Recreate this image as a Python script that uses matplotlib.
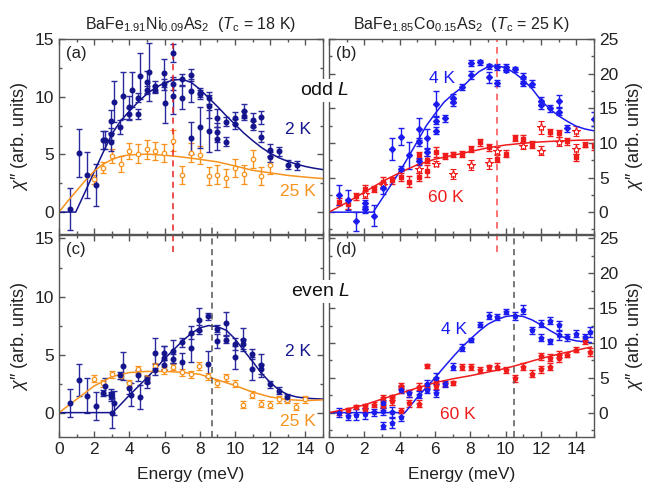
import matplotlib
matplotlib.use("Agg")
import matplotlib.pyplot as plt
from matplotlib.ticker import MultipleLocator

plt.rcParams['font.family'] = ['Liberation Sans', 'DejaVu Sans']
plt.rcParams['mathtext.fontset'] = 'custom'
plt.rcParams['mathtext.rm'] = 'Liberation Sans'
plt.rcParams['mathtext.it'] = 'Liberation Sans:italic'
plt.rcParams['mathtext.bf'] = 'Liberation Sans:bold'

# (a) BaFe1.91Ni0.09As2, odd L
a2_x = [0.63, 1.14, 1.61, 2.13, 2.5, 2.64, 2.98, 2.98, 2.98, 3.13, 3.47, 3.62, 4.0, 4.0, 4.14, 4.48, 4.48, 4.61, 5.0, 5.0,
        5.12, 5.48, 5.48, 5.98, 5.98, 6.05, 6.47, 6.47, 6.47, 6.98, 6.98, 7.5, 7.5, 7.5, 8.0, 8.0, 8.0, 8.5, 8.5, 8.5,
        9.0, 9.0, 9.0, 9.5, 9.5, 10.0, 10.0, 10.5, 10.5, 11.0, 11.0, 11.5, 11.5, 12.0, 12.0, 12.5, 13.0, 13.5]
a2_y = [0.26, 5.14, 3.2, 2.34, 6.26, 6.26, 6.06, 6.77, 7.86, 9.57, 7.34, 10.1, 9.1, 8.5, 10.6, 9.9, 8.5, 11.8, 11.26, 10.6,
        12.14, 10.9, 10.6, 12.06, 11.06, 9.49, 13.77, 11.06, 10.1, 11.5, 9.9, 11.9, 10.53, 6.43, 10.34, 10.2, 7.34, 9.9, 9.19, 7.05,
        8.14, 6.91, 6.34, 7.85, 6.11, 8.14, 7.63, 8.77, 8.34, 7.97, 7.49, 8.2, 6.54, 5.4, 4.77, 5.27, 4.11, 4.06]
a2_e = [1.85, 2.1, 2.0, 1.8, 0.8, 0.8, 0.8, 0.5, 1.0, 1.8, 0.6, 2.0, 1.0, 0.5, 1.5, 0.4, 0.4, 2.0, 1.0, 0.3,
        2.5, 0.5, 0.3, 1.2, 0.5, 1.8, 0.8, 0.5, 1.6, 0.5, 1.0, 0.5, 1.0, 1.4, 0.4, 0.4, 1.8, 0.5, 1.0, 1.8,
        0.8, 0.8, 1.0, 0.4, 0.4, 0.5, 0.4, 0.6, 0.4, 0.6, 0.4, 0.6, 0.5, 0.5, 0.4, 0.4, 0.4, 0.4]
a25_x = [2.0, 2.49, 3.02, 3.5, 4.0, 4.48, 5.0, 5.48, 5.98, 6.47, 6.98, 7.5, 8.0, 8.5, 9.0, 9.5, 10.0, 10.5, 11.0, 11.5, 12.0]
a25_y = [2.85, 3.86, 4.86, 4.14, 5.26, 5.06, 5.43, 5.29, 5.11, 6.2, 3.2, 5.16, 4.93, 3.12, 3.24, 2.97, 3.83, 3.26, 4.6, 3.12, 4.08]
a25_e = [0.4, 0.5, 0.6, 0.7, 0.7, 0.8, 0.8, 0.8, 0.8, 0.9, 0.8, 0.8, 0.8, 0.8, 0.8, 0.8, 0.8, 0.8, 0.8, 0.8, 0.8]
a2_fit_x = [0, 0.95, 1.5, 2.0, 2.5, 3.0, 3.5, 4.0, 4.5, 5.0, 5.5, 6.0, 6.5, 7.0, 7.5, 8.0, 8.5, 9.0, 9.5, 10.0,
            10.5, 11.0, 11.5, 12.0, 12.5, 13.0, 13.5, 14.0, 14.5, 15.0]
a2_fit_y = [0, 0, 1.8, 3.5, 5.15, 6.75, 7.9, 8.75, 9.55, 10.25, 10.8, 11.2, 11.45, 11.5, 11.25, 10.65, 9.9, 9.15, 8.35, 7.6,
            6.85, 6.2, 5.6, 5.1, 4.7, 4.4, 4.15, 3.95, 3.8, 3.68]
a25_fit_x = [0, 0.5, 1.0, 1.5, 2.0, 2.5, 3.0, 3.5, 4.0, 5.0, 6.0, 7.0, 8.0, 9.0, 10.0, 11.0, 12.0, 13.0, 14.0, 15.0]
a25_fit_y = [0, 0.95, 1.85, 2.75, 3.55, 4.15, 4.55, 4.82, 4.96, 5.02, 4.93, 4.77, 4.57, 4.35, 4.0, 3.62, 3.4, 3.18, 3.03, 2.9]

# (b) BaFe1.85Co0.15As2, odd L
b4_x = [0.55, 1.08, 1.55, 2.06, 2.06, 2.55, 3.06, 3.55, 4.06, 4.06, 4.53, 5.08, 5.08, 5.08, 5.57, 5.57, 6.06, 6.06, 6.06, 6.55,
        7.02, 7.02, 7.53, 8.02, 8.02, 8.53, 9.04, 9.04, 9.53, 9.53, 10.02, 10.02, 10.51, 10.98, 10.98, 11.49, 11.98, 11.98,
        12.49, 13.0, 13.0, 13.49, 14.98]
b4_y = [2.48, 1.76, -1.33, 0.43, 1.29, -0.52, 3.43, 9.14, 10.9, 6.29, 8.19, 12.0, 10.1, 7.33, 10.67, 8.67, 15.67, 13.19, 11.76, 13.57,
        16.43, 15.9, 18.05, 21.52, 19.76, 21.62, 19.48, 21.05, 18.67, 20.95, 20.95, 20.57, 20.62, 19.52, 18.67, 18.57, 16.05, 15.43,
        15.0, 16.05, 14.48, 12.14, 13.43]
b4_e = [1.5, 1.5, 1.4, 0.5, 0.5, 1.5, 0.8, 1.6, 1.2, 0.4, 2.0, 1.6, 0.6, 0.5, 1.4, 0.5, 1.8, 0.5, 0.5, 0.5,
        0.7, 0.5, 0.4, 0.4, 0.6, 0.4, 0.8, 0.4, 0.4, 0.4, 0.4, 0.4, 0.4, 0.6, 0.5, 0.5, 0.6, 0.5,
        0.5, 0.8, 0.5, 0.5, 1.0]
b60_x = [0.55, 1.08, 1.55, 2.06, 2.55, 3.06, 3.55, 4.06, 4.53, 5.08, 5.08, 5.57, 5.57, 6.06, 6.55, 7.02, 7.53, 8.02, 8.53, 9.04,
         9.53, 10.02, 10.51, 10.98, 11.49, 12.49, 13.0, 13.49, 14.0, 14.47, 14.98]
b60_y = [1.52, 1.19, 2.33, 3.33, 3.33, 4.38, 4.62, 5.1, 4.38, 5.1, 8.19, 5.95, 7.57, 8.67, 8.1, 8.33, 8.43, 9.14, 10.1, 9.38,
         7.71, 8.43, 10.71, 10.57, 9.76, 11.52, 11.38, 10.24, 7.95, 9.76, 9.52]
b60_e = [0.5, 0.7, 0.5, 0.6, 0.4, 0.7, 0.5, 0.6, 0.8, 0.6, 0.5, 0.8, 0.5, 0.7, 0.4, 0.4, 0.4, 0.4, 0.5, 0.5,
         0.5, 0.5, 0.4, 0.5, 0.5, 0.5, 0.5, 0.5, 0.5, 0.4, 0.5]
b60s_x = [2.06, 3.06, 5.08, 6.06, 7.02, 8.02, 9.04, 9.53, 11.0, 11.98, 11.98, 13.0, 13.96, 13.96]
b60s_y = [2.57, 3.9, 6.29, 7.0, 5.48, 6.86, 7.09, 8.9, 9.61, 12.24, 8.9, 10.19, 11.76, 9.14]
b60s_e = [0.5, 0.5, 0.6, 0.4, 0.7, 0.7, 0.8, 0.5, 0.5, 0.9, 0.7, 0.6, 0.7, 0.7]
b4_fit_x = [0, 2.5, 3.0, 3.5, 4.0, 4.5, 5.0, 5.5, 6.0, 6.5, 7.0, 7.5, 8.0, 8.5, 9.0, 9.5, 10.0, 10.5, 11.0, 11.5,
            12.0, 12.5, 13.0, 13.5, 14.0, 14.5, 15.0]
b4_fit_y = [0, 0, 1.95, 3.9, 5.85, 8.0, 10.2, 12.45, 14.2, 15.85, 17.0, 17.95, 19.2, 20.3, 21.0, 21.15, 20.85, 20.1, 19.1, 17.8,
            16.15, 14.9, 13.9, 13.1, 12.4, 12.0, 11.75]
b60_fit_x = [0, 1, 2, 3, 4, 5, 6, 7, 8, 9, 10, 11, 12, 13, 14, 15]
b60_fit_y = [0, 1.38, 2.88, 4.4, 5.7, 6.85, 7.65, 8.2, 8.75, 9.3, 9.7, 9.95, 10.15, 10.28, 10.38, 10.43]

# (c) BaFe1.91Ni0.09As2, even L
c2_x = [0.61, 1.12, 1.61, 2.12, 2.48, 2.63, 2.97, 2.97, 3.0, 3.12, 3.47, 3.62, 4.0, 4.11, 4.47, 4.6, 4.98, 4.98, 5.47, 5.47,
        5.97, 5.97, 5.97, 6.46, 6.46, 6.97, 6.97, 7.48, 7.48, 7.97, 7.97, 8.48, 8.48, 8.98, 8.98, 9.49, 9.49, 9.98, 9.98,
        10.47, 10.47, 10.97, 10.97, 11.48, 11.48, 11.99, 12.48, 12.97]
c2_y = [0.86, 2.81, 1.46, 0.54, 1.69, 2.26, 1.4, 1.6, 0.0, 0.83, 3.21, 3.98, 2.12, 1.55, 3.21, 1.35, 2.6, 2.89, 5.13, 3.7,
        4.7, 4.13, 5.13, 5.27, 4.64, 6.07, 4.33, 6.9, 5.56, 8.0, 7.13, 8.28, 4.18, 7.22, 6.13, 7.71, 6.28, 5.9, 4.76,
        6.28, 5.9, 5.04, 3.78, 4.07, 3.75, 2.46, 1.89, 1.32]
c2_e = [1.2, 1.4, 1.5, 1.2, 0.3, 0.7, 0.4, 0.4, 1.3, 1.0, 0.3, 1.2, 0.5, 1.0, 0.5, 1.0, 0.5, 0.3, 1.3, 0.5,
        1.0, 0.4, 0.6, 1.0, 0.4, 0.4, 0.8, 0.6, 1.2, 1.0, 0.4, 0.3, 1.1, 0.3, 0.6, 1.0, 0.3, 0.5, 1.0,
        1.0, 0.4, 0.4, 1.0, 1.0, 0.4, 0.3, 0.3, 0.3]
c25_x = [2.01, 2.52, 3.01, 3.5, 4.0, 4.47, 4.98, 5.47, 5.97, 6.46, 6.97, 7.48, 7.97, 8.48, 8.98, 9.49, 9.98, 10.47, 10.97,
         11.48, 11.99, 12.48, 12.97, 13.47, 13.98]
c25_y = [2.92, 2.55, 3.32, 3.18, 2.55, 3.75, 2.98, 3.98, 3.64, 3.93, 3.47, 3.32, 3.98, 3.12, 2.55, 3.04, 2.49, 0.69, 1.55,
         0.77, 0.69, 1.17, 1.12, 0.49, 1.17]
c25_e = [0.3, 0.3, 0.3, 0.3, 0.3, 0.3, 0.3, 0.3, 0.3, 0.3, 0.3, 0.3, 0.35, 0.3, 0.3, 0.3, 0.3, 0.3, 0.3,
         0.3, 0.3, 0.3, 0.3, 0.3, 0.3]
c2_fit_x = [0, 3.05, 3.5, 4.0, 4.5, 5.0, 5.5, 6.0, 6.5, 7.0, 7.5, 8.0, 8.5, 9.0, 9.5, 10.0, 10.5, 11.0, 11.5, 12.0,
            12.5, 13.0, 13.5, 14.0, 14.5, 15.0]
c2_fit_y = [0, 0, 0.7, 1.5, 2.25, 3.0, 3.8, 4.65, 5.4, 6.15, 6.8, 7.3, 7.5, 7.4, 7.1, 6.35, 5.35, 4.4, 3.4, 2.6,
            1.95, 1.55, 1.35, 1.25, 1.2, 1.17]
c25_fit_x = [0, 1, 2, 3, 4, 5, 6, 7, 8, 9, 10, 11, 12, 13, 14, 15]
c25_fit_y = [0, 1.15, 2.3, 3.1, 3.45, 3.55, 3.55, 3.47, 3.3, 2.83, 2.33, 1.77, 1.35, 1.12, 1.03, 1.1]

# (d) BaFe1.85Co0.15As2, even L
d4_x = [0.55, 1.06, 1.55, 2.06, 2.55, 3.06, 3.06, 3.06, 3.55, 3.55, 4.06, 4.06, 4.53, 5.08, 5.57, 5.57, 6.06, 6.06, 6.55, 7.02,
        7.53, 8.02, 8.53, 9.04, 9.53, 10.02, 10.51, 10.98, 11.49, 11.98, 11.98, 12.49, 12.49, 13.0, 13.0, 13.49, 14.0, 14.51, 14.79]
d4_y = [0.0, -0.52, -0.33, -0.14, 0.05, 0.19, 1.37, -1.85, 0.05, -1.47, -0.62, 3.27, 2.8, 2.56, 4.12, 3.27, 4.93, 2.8, 4.12, 6.59,
        9.29, 10.38, 12.65, 13.93, 13.7, 14.5, 13.84, 14.79, 11.8, 12.75, 10.76, 13.22, 10.24, 12.51, 11.09, 10.85, 11.33, 10.85, 11.56]
d4_e = [0.6, 0.5, 0.8, 0.8, 0.5, 0.5, 0.5, 0.5, 0.8, 0.8, 0.6, 0.5, 0.5, 0.5, 0.6, 0.5, 0.8, 0.5, 0.4, 0.5,
        0.5, 0.3, 0.4, 0.5, 0.4, 0.4, 0.6, 0.6, 0.5, 0.5, 0.5, 0.5, 0.4, 0.6, 0.6, 0.5, 0.5, 0.4, 0.7]
d60_x = [0.55, 1.06, 1.55, 2.06, 2.06, 2.55, 3.06, 3.06, 3.55, 3.55, 4.06, 4.06, 4.06, 4.53, 4.53, 5.08, 5.08, 5.57, 5.57, 6.06,
         6.06, 6.55, 7.02, 7.53, 8.02, 8.53, 9.04, 9.53, 10.02, 10.51, 10.98, 11.49, 11.98, 11.98, 12.49, 12.49, 13.0, 13.0,
         13.49, 14.0, 14.51, 14.79]
d60_y = [0.0, 0.43, 0.76, 0.43, 0.9, 1.14, 2.09, 1.0, 2.18, 1.61, 3.89, 3.27, 0.28, 2.8, 1.37, 3.74, 1.28, 6.68, 3.74, 3.84,
         4.55, 4.12, 4.31, 6.59, 6.59, 6.11, 6.49, 6.59, 6.11, 4.93, 6.59, 5.55, 8.1, 6.21, 7.91, 6.59, 8.34, 7.77,
         8.34, 9.05, 10.28, 8.72]
d60_e = [0.3, 0.3, 0.3, 0.3, 0.3, 0.4, 0.4, 0.3, 0.4, 0.5, 0.4, 0.4, 0.4, 0.5, 0.5, 0.5, 0.5, 0.3, 0.4, 0.4,
         0.4, 0.3, 0.3, 0.4, 0.4, 0.4, 0.4, 0.5, 0.4, 0.5, 0.5, 0.5, 0.5, 0.5, 0.5, 0.5, 0.5, 0.5,
         0.4, 0.4, 0.4, 0.6]
d4_fit_x = [0, 4.3, 5.0, 5.5, 6.0, 6.5, 7.0, 7.5, 8.0, 8.5, 9.0, 9.5, 10.0, 10.5, 11.0, 11.5, 12.0, 12.5, 13.0, 13.5,
            14.0, 14.5, 14.85]
d4_fit_y = [0, 0, 2.2, 3.6, 5.0, 6.5, 7.95, 9.35, 10.55, 11.7, 12.7, 13.35, 13.8, 13.95, 13.8, 13.3, 12.6, 11.8, 11.1, 10.6,
            10.3, 10.15, 10.05]
d60_fit_x = [0, 1, 2, 3, 4, 5, 6, 7, 8, 9, 10, 11, 12, 13, 14, 14.85]
d60_fit_y = [0, 0.5, 1.1, 1.95, 2.75, 3.55, 4.3, 4.85, 5.3, 5.82, 6.35, 7.05, 7.77, 8.4, 8.96, 9.43]

NAVY = '#14148c'
ORANGE = '#f7931e'
BLUE = '#1c1cf0'
RED = '#f01c1c'
SPINE = '#555555'
YLABEL = "$\\chi$\u2033 (arb. units)"

fig = plt.figure(figsize=(6.53, 5.0), dpi=100)
W, H = 653.0, 500.0

def make_ax(x0, x1, y0, y1):
    # pixel box -> figure fractions
    return fig.add_axes([x0 / W, 1 - y1 / H, (x1 - x0) / W, (y1 - y0) / H], facecolor='none')

ax_a = make_ax(59, 323, 39, 234)
ax_b = make_ax(329, 594, 39, 234)
ax_c = make_ax(59, 323, 235, 437)
ax_d = make_ax(329, 594, 235, 437)

def style(ax, ylim, ymaj, right=False, bottom=False):
    ax.set_xlim(0, 15)
    ax.set_ylim(*ylim)
    ax.xaxis.set_major_locator(MultipleLocator(2))
    ax.xaxis.set_minor_locator(MultipleLocator(1))
    ax.yaxis.set_major_locator(MultipleLocator(ymaj))
    ax.yaxis.set_minor_locator(MultipleLocator(ymaj / 2))
    ax.tick_params(which='both', direction='in', top=True, right=True, left=True, bottom=True,
                   color=SPINE, labelcolor='#222222', labelsize=12.5)
    ax.tick_params(which='major', length=4, width=1)
    ax.tick_params(which='minor', length=2.5, width=1)
    for s in ax.spines.values():
        s.set_color(SPINE)
        s.set_linewidth(1)
    ax.tick_params(labelbottom=bottom)
    if right:
        ax.tick_params(labelleft=False, labelright=True)
        ax.yaxis.set_label_position('right')
        ax.set_ylabel(YLABEL, fontsize=13, color='#222222', labelpad=4)
    else:
        ax.set_ylabel(YLABEL, fontsize=13, color='#222222', labelpad=3)
    if bottom:
        ax.set_xlabel("Energy (meV)", fontsize=12.5, color='#222222', labelpad=7)

style(ax_a, (-1.9, 15), 5)
style(ax_b, (-3.15, 25), 5, right=True)
style(ax_c, (-2.1, 15.3), 5, bottom=True)
style(ax_d, (-3.5, 25.5), 5, right=True, bottom=True)

eb = dict(linestyle='none', elinewidth=1, capsize=2, capthick=1)

# (a)
ax_a.errorbar(a25_x, a25_y, yerr=a25_e, fmt='o', ms=3.2, mfc='white', mec=ORANGE, mew=0.9, color=ORANGE, **eb)
ax_a.errorbar(a2_x, a2_y, yerr=a2_e, fmt='o', ms=3.3, color=NAVY, ecolor='#2a2a9e', **eb)
ax_a.plot(a2_fit_x, a2_fit_y, color=NAVY, lw=1.1)
ax_a.plot(a25_fit_x, a25_fit_y, color=ORANGE, lw=1.1)

# (b)
ax_b.errorbar(b60_x, b60_y, yerr=b60_e, fmt='s', ms=3, color=RED, **eb)
ax_b.errorbar(b60s_x, b60s_y, yerr=b60s_e, fmt='*', ms=6, mfc='white', mec=RED, mew=0.8, color=RED, **eb)
ax_b.errorbar(b4_x, b4_y, yerr=b4_e, fmt='D', ms=3, color=BLUE, **eb)
ax_b.plot(b4_fit_x, b4_fit_y, color=BLUE, lw=1.1)
ax_b.plot(b60_fit_x, b60_fit_y, color=RED, lw=1.1)

# (c)
ax_c.errorbar(c25_x, c25_y, yerr=c25_e, fmt='o', ms=3.2, mfc='white', mec=ORANGE, mew=0.9, color=ORANGE, **eb)
ax_c.errorbar(c2_x, c2_y, yerr=c2_e, fmt='o', ms=3.3, color=NAVY, ecolor='#2a2a9e', **eb)
ax_c.plot(c2_fit_x, c2_fit_y, color=NAVY, lw=1.1)
ax_c.plot(c25_fit_x, c25_fit_y, color=ORANGE, lw=1.1)

# (d)
ax_d.errorbar(d60_x, d60_y, yerr=d60_e, fmt='p', ms=3.5, color=RED, **eb)
ax_d.errorbar(d4_x, d4_y, yerr=d4_e, fmt='p', ms=3.5, color=BLUE, **eb)
ax_d.plot(d4_fit_x, d4_fit_y, color=BLUE, lw=1.1)
ax_d.plot(d60_fit_x, d60_fit_y, color=RED, lw=1.1)

# dashed guide lines crossing the panels
ax_a.axvline(6.5, ymin=-0.092, ymax=1, color='#e82020', ls=(0, (4, 3)), lw=1.1, clip_on=False)
ax_b.axvline(9.5, ymin=-0.092, ymax=1, color='#ff5a5a', ls=(0, (4, 3)), lw=1.2, clip_on=False)
ax_c.axvline(8.7, ymin=0, ymax=1.06, color='#555555', ls=(0, (4, 3)), lw=1.1, clip_on=False)
ax_d.axvline(10.5, ymin=0, ymax=1.06, color='#555555', ls=(0, (4, 3)), lw=1.1, clip_on=False)

# panel labels and temperatures
for ax, lab in [(ax_a, '(a)'), (ax_b, '(b)'), (ax_c, '(c)'), (ax_d, '(d)')]:
    ax.text(0.025, 0.965, lab, transform=ax.transAxes, ha='left', va='top', fontsize=12, color='#222222')

ax_a.text(14.3, 7.2, '2 K', color=NAVY, fontsize=12.5, ha='right', va='center')
ax_a.text(14.6, 1.8, '25 K', color=ORANGE, fontsize=12.5, ha='right', va='center')
ax_b.text(6.4, 19.3, '4 K', color=BLUE, fontsize=12.5, ha='center', va='center')
ax_b.text(6.6, 2.1, '60 K', color=RED, fontsize=12.5, ha='center', va='center')
ax_c.text(14.3, 5.3, '2 K', color=NAVY, fontsize=12.5, ha='right', va='center')
ax_c.text(14.6, -0.8, '25 K', color=ORANGE, fontsize=12.5, ha='right', va='center')
ax_d.text(7.1, 11.95, '4 K', color=BLUE, fontsize=12.5, ha='center', va='center')
ax_d.text(7.3, -0.3, '60 K', color=RED, fontsize=12.5, ha='center', va='center')

# sample titles
ax_a.set_title(r"BaFe$_{1.91}$Ni$_{0.09}$As$_2$  ($T_{\rm c}$ = 18 K)", fontsize=11.5, color='#222222', pad=7)
ax_b.set_title(r"BaFe$_{1.85}$Co$_{0.15}$As$_2$  ($T_{\rm c}$ = 25 K)", fontsize=11.5, color='#222222', pad=7)

# odd / even L labels sitting on top of the panel gap
box = dict(facecolor='white', edgecolor='none', pad=2)
fig.text(325 / W, 1 - 90.7 / H, r"odd $L$", fontsize=14, ha='center', va='center', color='#111111', bbox=box, zorder=10)
fig.text(321 / W, 1 - 291.7 / H, r"even $L$", fontsize=14, ha='center', va='center', color='#111111', bbox=box, zorder=10)

fig.savefig('out.png', dpi=100)
